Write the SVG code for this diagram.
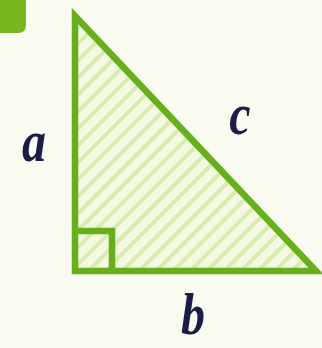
<svg xmlns="http://www.w3.org/2000/svg" width="322" height="348" viewBox="0 0 322 348">
<defs>
<pattern id="hatch" patternUnits="userSpaceOnUse" width="12" height="12" patternTransform="rotate(45)">
<rect width="12" height="12" fill="#f3f9e2"/>
<rect x="0" y="0" width="4" height="12" fill="#d9ecb0"/>
</pattern>
<style>
.lbl{font-family:"Liberation Serif",serif;font-style:italic;font-weight:bold;font-size:60px;fill:#1c1c48;text-anchor:middle}
.edge{stroke:#67b01c;stroke-width:6.5;stroke-linejoin:miter}
</style>
</defs>
<rect width="322" height="348" fill="#f9fbf1"/>
<g id="tab"><path d="M0,0 H26 V25 Q26,33 18,33 H0 Z" fill="#78b81e"/></g>
<g id="triangle">
<path d="M75,16 L75,271 L316,271 Z" class="edge" fill="url(#hatch)"/>
<path d="M75,231 H112 V271" class="edge" fill="none"/>
</g>
<g id="labels">
<text class="lbl" transform="translate(34,161) scale(0.8,1)">a</text>
<text class="lbl" transform="translate(240,134) scale(0.8,1)">c</text>
<text class="lbl" transform="translate(193,334) scale(0.8,1)">b</text>
</g>
</svg>
